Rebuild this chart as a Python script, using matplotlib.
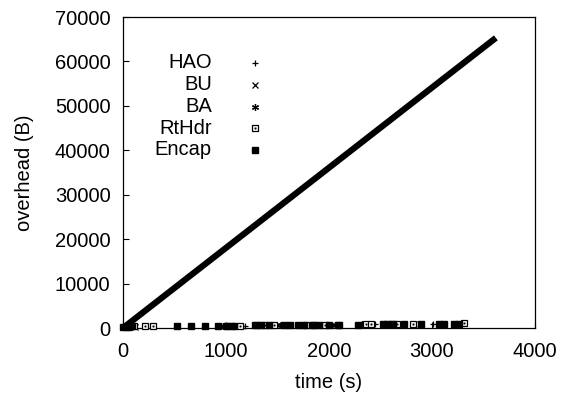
import matplotlib
matplotlib.use("Agg")
import matplotlib.pyplot as plt

plt.rcParams['font.family'] = ['Liberation Sans', 'DejaVu Sans']

# Main cumulative overhead trace (thick diagonal)
trace_t = [0, 3620]
trace_b = [0, 65300]

# Small per-message overheads near the bottom
encap_t = [0, 40, 90, 520, 660, 800, 920, 1010, 1080, 1280, 1340, 1420, 1560, 1620,
           1700, 1760, 1840, 1900, 2000, 2100, 2280, 2520, 2560, 2620, 2730, 2890,
           3070, 3120, 3210, 3260]
encap_b = [300, 320, 340, 420, 450, 480, 500, 520, 540, 570, 590, 600, 630, 640,
           660, 670, 680, 700, 720, 740, 770, 820, 830, 840, 860, 890,
           920, 930, 950, 960]
rthdr_t = [60, 110, 210, 290, 1000, 1060, 1140, 1300, 1380, 1470, 1780, 1840,
           1960, 2090, 2360, 2410, 2600, 2660, 2820, 3310]
rthdr_b = [320, 340, 360, 380, 520, 540, 560, 600, 610, 630, 700, 710,
           740, 770, 830, 840, 880, 900, 940, 1040]
bu_t = [30, 120, 950, 1310, 1500, 1720, 2040, 2300, 2540, 2700, 2880, 3100, 3220]
bu_b = [310, 330, 500, 580, 620, 670, 730, 780, 830, 860, 900, 940, 970]
ba_t = [50, 970, 1330, 1530, 1740, 2060, 2320, 2580, 2720, 3110, 3240]
ba_b = [320, 510, 590, 630, 680, 740, 790, 840, 870, 950, 980]
hao_t = [20, 1180, 1600, 1950, 2450, 2630, 3010]
hao_b = [310, 560, 640, 720, 820, 860, 920]

fig = plt.figure(figsize=(5.64, 3.94), dpi=100)
ax = fig.add_axes([123/564, 1 - 328/394, (535-123)/564, (328-17)/394])

ax.plot(trace_t, trace_b, color='black', lw=4.5, solid_capstyle='butt', zorder=2)

ms = 5.0
kw = dict(ls='none', clip_on=False, zorder=3)
ax.plot(hao_t, hao_b, marker='+', ms=ms, mew=0.9, color='black', **kw)
ax.plot(bu_t, bu_b, marker='x', ms=ms-0.5, mew=0.9, color='black', **kw)
ax.plot(ba_t, ba_b, marker=(6, 2, 0), ms=ms, mew=0.9, color='black', **kw)
ax.plot(rthdr_t, rthdr_b, marker='s', ms=ms, mfc='white', mec='black', mew=0.9, **kw)
ax.plot(rthdr_t, rthdr_b, ls='none', marker='s', ms=1, mfc='black', mec='black',
        mew=0.3, clip_on=False, zorder=4)
ax.plot(encap_t, encap_b, marker='s', ms=ms, color='black', **kw)

ax.set_xlim(0, 4000)
ax.set_ylim(0, 70000)
ax.set_xticks([0, 1000, 2000, 3000, 4000])
ax.set_yticks(range(0, 70001, 10000))
ax.tick_params(direction='in', length=4.5, width=0.8, labelsize=14.5)
ax.tick_params(axis='x', pad=10)
ax.tick_params(axis='y', pad=9)
for s in ax.spines.values():
    s.set_linewidth(0.9)
ax.set_xlabel('time (s)', fontsize=14.5, labelpad=9)
ax.set_ylabel('overhead (B)', fontsize=14.5, labelpad=15)

# Legend drawn gnuplot-style: right-aligned labels, symbols to the right
labels = ['HAO', 'BU', 'BA', 'RtHdr', 'Encap']
rows_y = [63, 85, 107, 128, 150]
text_x = 212
mark_x = 255
tr = fig.transFigure
for lab, yy in zip(labels, rows_y):
    fig.text(text_x/564, 1 - yy/394, lab, ha='right', va='center', fontsize=14.5)
leg_style = [
    dict(marker='+', ms=ms, mew=0.9, color='black'),
    dict(marker='x', ms=ms-0.5, mew=0.9, color='black'),
    dict(marker=(6, 2, 0), ms=ms, mew=0.9, color='black'),
    dict(marker='s', ms=ms, mfc='white', mec='black', mew=0.9),
    dict(marker='s', ms=ms, color='black'),
]
for st, yy in zip(leg_style, rows_y):
    fig.add_artist(plt.Line2D([mark_x/564], [1 - yy/394], ls='none', transform=tr, **st))
fig.add_artist(plt.Line2D([mark_x/564], [1 - rows_y[3]/394], ls='none', transform=tr,
                          marker='s', ms=1, mfc='black', mec='black', mew=0.3))

fig.savefig('out.png', dpi=100)
